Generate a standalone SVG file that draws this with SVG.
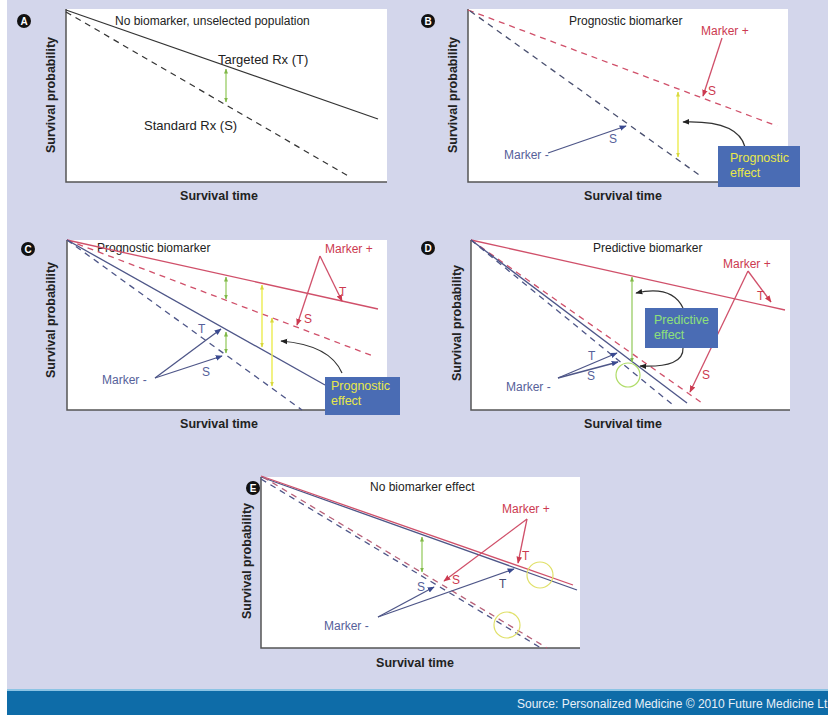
<svg xmlns="http://www.w3.org/2000/svg" width="828" height="715" viewBox="0 0 828 715">
<defs>
<style>
text{font-family:"Liberation Sans",Arial,sans-serif;}
.ttl{font-size:12px;fill:#222;}
.lbl{font-size:12px;}
.ax{font-size:12.5px;font-weight:bold;fill:#222;}
.plot{fill:#fff;}
.axis{fill:none;stroke:#555;stroke-width:1.5;}
.red{stroke:#d0506a;fill:none;stroke-width:1.3;}
.blu{stroke:#4e5688;fill:none;stroke-width:1.3;}
.blk{stroke:#333;fill:none;stroke-width:1.2;}
.dash{stroke-dasharray:6 5;}
.rt{fill:#cc3a50;}
.bt{fill:#56619a;}
.box{fill:#4a6cb4;}
.ye{fill:#e8e84a;font-size:12.5px;}
.gr{fill:#8ee07a;font-size:12.5px;}
.ga{stroke:#90c858;stroke-width:1.2;fill:none;}
.ya{stroke:#ecec50;stroke-width:1.4;fill:none;}
.circ{fill:#111;}
.cl{font-size:10px;font-weight:bold;fill:#fff;}
</style>
<marker id="mr" viewBox="0 0 10 10" refX="9" refY="5" markerWidth="7" markerHeight="7" markerUnits="userSpaceOnUse" orient="auto-start-reverse"><path d="M0,1 L10,5 L0,9z" fill="#cc3a50"/></marker>
<marker id="mb" viewBox="0 0 10 10" refX="9" refY="5" markerWidth="7" markerHeight="7" markerUnits="userSpaceOnUse" orient="auto-start-reverse"><path d="M0,1 L10,5 L0,9z" fill="#3a4a90"/></marker>
<marker id="mg" viewBox="0 0 10 10" refX="9" refY="5" markerWidth="5" markerHeight="5" markerUnits="userSpaceOnUse" orient="auto-start-reverse"><path d="M0,1 L10,5 L0,9z" fill="#80b848"/></marker>
<marker id="my" viewBox="0 0 10 10" refX="9" refY="5" markerWidth="5" markerHeight="5" markerUnits="userSpaceOnUse" orient="auto-start-reverse"><path d="M0,1 L10,5 L0,9z" fill="#d8d840"/></marker>
<marker id="mk" viewBox="0 0 10 10" refX="9" refY="5" markerWidth="7" markerHeight="7" markerUnits="userSpaceOnUse" orient="auto-start-reverse"><path d="M0,1 L10,5 L0,9z" fill="#222"/></marker>
</defs>

<rect x="0" y="0" width="828" height="715" fill="#fff"/>
<rect x="7" y="0" width="821" height="690" fill="#d3d6eb"/>
<rect x="7" y="689" width="821" height="2" fill="#8cc4e4"/>
<rect x="7" y="691" width="821" height="24" fill="#0e6ca8"/>
<text x="517" y="708" style="font-size:12px;fill:#e8f0f8">Source: Personalized Medicine © 2010 Future Medicine Lt</text>

<!-- Panel A -->
<g id="panel-a">
<rect class="plot" x="66" y="9" width="321" height="173"/>
<path class="axis" d="M66,9 V182 H387"/>
<circle class="circ" cx="24" cy="21" r="7"/><text class="cl" x="24" y="24.6" text-anchor="middle">A</text>
<text class="ttl" x="115" y="25">No biomarker, unselected population</text>
<text class="ax" transform="translate(55,95) rotate(-90)" text-anchor="middle">Survival probability</text>
<text class="ax" x="219" y="200" text-anchor="middle">Survival time</text>
<g id="connectors-a">
<line class="blk" x1="66" y1="10" x2="378" y2="119"/>
<line class="blk dash" x1="66" y1="12" x2="350" y2="177"/>
<line class="ga" x1="226" y1="69" x2="226" y2="102" marker-start="url(#mg)" marker-end="url(#mg)"/>
</g>
<text class="lbl" x="218" y="64" style="font-size:13px;fill:#222">Targeted Rx (T)</text>
<text class="lbl" x="144" y="130" style="font-size:13px;fill:#222">Standard Rx (S)</text>
</g>

<!-- Panel B -->
<g id="panel-b">
<rect class="plot" x="468" y="9" width="320" height="173"/>
<path class="axis" d="M468,9 V182 H788"/>
<circle class="circ" cx="428" cy="21" r="7"/><text class="cl" x="428" y="24.6" text-anchor="middle">B</text>
<text class="ttl" x="569" y="25">Prognostic biomarker</text>
<text class="ax" transform="translate(457,95) rotate(-90)" text-anchor="middle">Survival probability</text>
<text class="ax" x="623" y="200" text-anchor="middle">Survival time</text>
<g id="connectors-b">
<line class="red dash" x1="468" y1="10" x2="777" y2="126"/>
<line class="blu dash" x1="470" y1="11" x2="702" y2="177" style="stroke:#4a5070"/>
<line class="ya" x1="678" y1="92" x2="678" y2="157" marker-start="url(#my)" marker-end="url(#my)"/>
<path class="blk" d="M745,147 Q738,120 683,122" marker-end="url(#mk)"/>
<line class="red" x1="722" y1="38" x2="703" y2="96" marker-end="url(#mr)"/>
<line class="blu" x1="548" y1="153" x2="626" y2="126" marker-end="url(#mb)"/>
</g>
<rect class="box" x="718" y="146" width="82" height="41"/>
<text class="ye" x="730" y="162">Prognostic</text>
<text class="ye" x="730" y="177">effect</text>
<text class="lbl rt" x="701" y="35">Marker +</text>
<text class="lbl rt" x="708" y="95">S</text>
<text class="lbl bt" x="504" y="159">Marker -</text>
<text class="lbl bt" x="609" y="143">S</text>
</g>

<!-- Panel C -->
<g id="panel-c">
<rect class="plot" x="67" y="240" width="320" height="170"/>
<path class="axis" d="M67,240 V410 H387"/>
<circle class="circ" cx="28" cy="249" r="7"/><text class="cl" x="28" y="252.6" text-anchor="middle">C</text>
<text class="ttl" x="97" y="252">Prognostic biomarker</text>
<text class="ax" transform="translate(55,320) rotate(-90)" text-anchor="middle">Survival probability</text>
<text class="ax" x="219" y="428" text-anchor="middle">Survival time</text>
<g id="connectors-c">
<line class="red" x1="67" y1="240" x2="378" y2="309"/>
<line class="red dash" x1="67" y1="240" x2="373" y2="356"/>
<line class="blu" x1="67" y1="240" x2="325" y2="385"/>
<line class="blu dash" x1="67" y1="240" x2="302" y2="410"/>
<line class="ga" x1="226" y1="277" x2="226" y2="299" marker-start="url(#mg)" marker-end="url(#mg)"/>
<line class="ga" x1="226" y1="332" x2="226" y2="353" marker-start="url(#mg)" marker-end="url(#mg)"/>
<line class="ya" x1="262" y1="285" x2="262" y2="347" marker-start="url(#my)" marker-end="url(#my)"/>
<line class="ya" x1="272" y1="318" x2="272" y2="386" marker-start="url(#my)" marker-end="url(#my)"/>
<path class="blk" d="M342,373 Q330,345 281,341" marker-end="url(#mk)"/>
<line class="red" x1="320" y1="256" x2="342" y2="301" marker-end="url(#mr)"/>
<line class="red" x1="320" y1="256" x2="297" y2="325" marker-end="url(#mr)"/>
<line class="blu" x1="155" y1="378" x2="221" y2="329" marker-end="url(#mb)"/>
<line class="blu" x1="155" y1="378" x2="222" y2="356" marker-end="url(#mb)"/>
</g>
<rect class="box" x="325" y="377" width="75" height="38"/>
<text class="ye" x="331" y="390">Prognostic</text>
<text class="ye" x="331" y="405">effect</text>
<text class="lbl rt" x="325" y="253">Marker +</text>
<text class="lbl rt" x="339" y="296">T</text>
<text class="lbl rt" x="304" y="323">S</text>
<text class="lbl bt" x="102" y="384">Marker -</text>
<text class="lbl bt" x="198" y="333">T</text>
<text class="lbl bt" x="202" y="376">S</text>
</g>

<!-- Panel D -->
<g id="panel-d">
<rect class="plot" x="471" y="240" width="319" height="170"/>
<path class="axis" d="M471,240 V410 H790"/>
<circle class="circ" cx="428" cy="248" r="7"/><text class="cl" x="428" y="251.6" text-anchor="middle">D</text>
<text class="ttl" x="593" y="252">Predictive biomarker</text>
<text class="ax" transform="translate(461,323) rotate(-90)" text-anchor="middle">Survival probability</text>
<text class="ax" x="623" y="428" text-anchor="middle">Survival time</text>
<g id="connectors-d">
<line class="red" x1="471" y1="240" x2="785" y2="310"/>
<line class="red dash" x1="471" y1="240" x2="702" y2="403"/>
<line class="blu" x1="471" y1="240" x2="687" y2="403"/>
<line class="blu dash" x1="471" y1="240" x2="673" y2="405"/>
<line class="ga" x1="632" y1="277" x2="632" y2="362" marker-start="url(#mg)" marker-end="url(#mg)"/>
<circle cx="628" cy="375" r="12" fill="none" stroke="#b0dc68" stroke-width="1.2"/>
<path class="blk" d="M683,308 Q672,285 636,293" marker-end="url(#mk)"/>
<path class="blk" d="M683,348 Q684,368 640,366" marker-end="url(#mk)"/>
<line class="red" x1="748" y1="271" x2="771" y2="302" marker-end="url(#mr)"/>
<line class="red" x1="748" y1="271" x2="690" y2="392" marker-end="url(#mr)"/>
<line class="blu" x1="558" y1="378" x2="617" y2="353" marker-end="url(#mb)"/>
<line class="blu" x1="558" y1="378" x2="618" y2="362" marker-end="url(#mb)"/>
</g>
<rect class="box" x="645" y="308" width="73" height="40"/>
<text class="gr" x="654" y="324">Predictive</text>
<text class="gr" x="654" y="339">effect</text>
<text class="lbl rt" x="723" y="268">Marker +</text>
<text class="lbl rt" x="757" y="300">T</text>
<text class="lbl rt" x="702" y="379">S</text>
<text class="lbl bt" x="506" y="391">Marker -</text>
<text class="lbl bt" x="588" y="360">T</text>
<text class="lbl bt" x="587" y="380">S</text>
</g>

<!-- Panel E -->
<g id="panel-e">
<rect class="plot" x="261" y="477" width="319" height="171"/>
<path class="axis" d="M261,477 V648 H580"/>
<circle class="circ" cx="253" cy="488" r="7"/><text class="cl" x="253" y="491.6" text-anchor="middle">E</text>
<text class="ttl" x="370" y="491">No biomarker effect</text>
<text class="ax" transform="translate(251,561) rotate(-90)" text-anchor="middle">Survival probability</text>
<text class="ax" x="415" y="667" text-anchor="middle">Survival time</text>
<g id="connectors-e">
<line class="blu" x1="261" y1="477" x2="577" y2="590"/>
<line class="red" x1="261" y1="476" x2="573" y2="585"/>
<line class="red dash" x1="263" y1="477" x2="547" y2="648" style="stroke:#b86078"/>
<line class="blu dash" x1="261" y1="479" x2="541" y2="648"/>
<line class="ga" x1="422" y1="537" x2="422" y2="572" marker-start="url(#mg)" marker-end="url(#mg)"/>
<circle cx="540" cy="575" r="13" fill="none" stroke="#e0e068" stroke-width="1.2"/>
<circle cx="507" cy="625" r="13" fill="none" stroke="#e0e068" stroke-width="1.2"/>
<line class="red" x1="527" y1="519" x2="518" y2="563" marker-end="url(#mr)"/>
<line class="red" x1="527" y1="519" x2="444" y2="581" marker-end="url(#mr)"/>
<line class="blu" x1="378" y1="617" x2="434" y2="587" marker-end="url(#mb)"/>
<line class="blu" x1="378" y1="617" x2="514" y2="569" marker-end="url(#mb)"/>
</g>
<text class="lbl rt" x="502" y="513">Marker +</text>
<text class="lbl rt" x="522" y="560">T</text>
<text class="lbl rt" x="452" y="584">S</text>
<text class="lbl bt" x="324" y="630">Marker -</text>
<text class="lbl bt" x="417" y="591">S</text>
<text class="lbl" x="499" y="588" style="fill:#444a70">T</text>
</g>
</svg>
